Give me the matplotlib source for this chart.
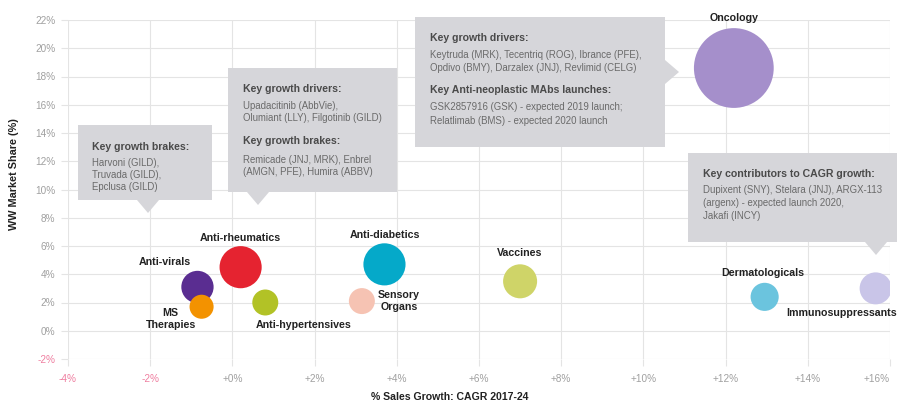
import matplotlib
matplotlib.use("Agg")
from matplotlib import pyplot as plt
from matplotlib.patches import Polygon

plt.rcParams["font.family"] = ["Liberation Sans", "DejaVu Sans"]

# therapy areas: sales growth CAGR 2017-24 (%), WW market share (%), bubble size
areas = ["Oncology", "Anti-virals", "MS\nTherapies", "Anti-rheumatics", "Anti-hypertensives",
         "Anti-diabetics", "Sensory\nOrgans", "Vaccines", "Dermatologicals", "Immunosuppressants"]
cagr = [12.2, -0.85, -0.75, 0.2, 0.8, 3.7, 3.15, 7.0, 12.95, 15.65]
share = [18.6, 3.1, 1.7, 4.5, 2.0, 4.7, 2.1, 3.5, 2.4, 3.0]
bubble_size = [3300, 540, 300, 920, 350, 920, 350, 600, 410, 530]
colors = ["#a58fcb", "#5a2d91", "#f39200", "#e52330", "#b2c226",
          "#05a9c9", "#f6c3b3", "#cfd468", "#6bc4de", "#c9c5e8"]
# label offsets from bubble centre, pixels
label_offsets = [(0, 50), (-33, 25), (-31, -12), (0, 29), (38, -22),
                 (0, 29), (37, 0), (0, 28), (-2, 24), (-34, -25)]

x_ticks = [-4, -2, 0, 2, 4, 6, 8, 10, 12, 14, 16]
y_ticks = [-2, 0, 2, 4, 6, 8, 10, 12, 14, 16, 18, 20, 22]

callouts = [
    {"box": (78, 125, 212, 200), "pointer": ("bottom", 148, 213), "text_x": 92,
     "lines": [("Key growth brakes:", True, 147), ("Harvoni (GILD),", False, 163),
               ("Truvada (GILD),", False, 175), ("Epclusa (GILD)", False, 187)]},
    {"box": (228, 68, 397, 192), "pointer": ("bottom", 258, 205), "text_x": 243,
     "lines": [("Key growth drivers:", True, 89), ("Upadacitinib (AbbVie),", False, 106),
               ("Olumiant (LLY), Filgotinib (GILD)", False, 118),
               ("Key growth brakes:", True, 141), ("Remicade (JNJ, MRK), Enbrel", False, 160),
               ("(AMGN, PFE), Humira (ABBV)", False, 172)]},
    {"box": (415, 17, 665, 147), "pointer": ("right", 72, 679), "text_x": 430,
     "lines": [("Key growth drivers:", True, 38),
               ("Keytruda (MRK), Tecentriq (ROG), Ibrance (PFE),", False, 55),
               ("Opdivo (BMY), Darzalex (JNJ), Revlimid (CELG)", False, 68),
               ("Key Anti-neoplastic MAbs launches:", True, 90),
               ("GSK2857916 (GSK) - expected 2019 launch;", False, 107),
               ("Relatlimab (BMS) - expected 2020 launch", False, 121)]},
    {"box": (688, 153, 897, 242), "pointer": ("bottom", 876, 255), "text_x": 703,
     "lines": [("Key contributors to CAGR growth:", True, 174),
               ("Dupixent (SNY), Stelara (JNJ), ARGX-113", False, 190),
               ("(argenx) - expected launch 2020,", False, 203),
               ("Jakafi (INCY)", False, 216)]},
]

W, H = 900, 403


def fx(px):
    return px / W


def fy(py):
    return 1 - py / H


def pct(v):
    if v < 0:
        return f"-{abs(v)}%"
    return f"{v}%"


fig = plt.figure(figsize=(9, 4.03), dpi=100)
ax = fig.add_axes([fx(68), fy(359), fx(890) - fx(68), fy(20) - fy(359)])
ax.set_xlim(-4, 16)
ax.set_ylim(-2, 22)
ax.set_xticks(x_ticks)
ax.set_yticks(y_ticks)
ax.set_xticklabels([pct(v) if v < 0 else f"+{v}%" for v in x_ticks])
ax.set_yticklabels([pct(v) for v in y_ticks])
for lab, v in zip(ax.get_xticklabels(), x_ticks):
    lab.set_color("#ef7fa0" if v < 0 else "#a0a0a0")
for lab, v in zip(ax.get_yticklabels(), y_ticks):
    lab.set_color("#ef7fa0" if v < 0 else "#a0a0a0")
ax.tick_params(axis="both", labelsize=7.2, length=5, color="#e4e4e4", width=0.8, pad=4)
ax.tick_params(axis="x", pad=6)
# last x label sits at the right edge of the picture
ax.get_xticklabels()[-1].set_horizontalalignment("right")
ax.get_xticklabels()[-1].set_x(16.25)
ax.grid(True, color="#e4e4e4", lw=0.8)
ax.set_axisbelow(True)
for s in ax.spines.values():
    s.set_visible(False)

ax.scatter(cagr, share, s=bubble_size, c=colors, edgecolors="none", zorder=3)
for name, x, y, off in zip(areas, cagr, share, label_offsets):
    ax.annotate(name, (x, y), xytext=off, textcoords="offset pixels", ha="center", va="center",
                fontsize=7.7, fontweight="bold", color="#222222", linespacing=1.2, zorder=4)

fig.text(fx(14), fy(174), "WW Market Share (%)", rotation=90, ha="center", va="center",
         fontsize=7.8, fontweight="bold", color="#222222")
fig.text(fx(450), fy(397), "% Sales Growth: CAGR 2017-24", ha="center", va="center",
         fontsize=7.6, fontweight="bold", color="#222222")

for c in callouts:
    x0, y0, x1, y1 = c["box"]
    kind = c["pointer"][0]
    if kind == "bottom":
        px, apex = c["pointer"][1], c["pointer"][2]
        pts = [(x0, y0), (x1, y0), (x1, y1), (px + 11, y1), (px, apex), (px - 11, y1), (x0, y1)]
    else:
        py, apex = c["pointer"][1], c["pointer"][2]
        pts = [(x0, y0), (x1, y0), (x1, py - 12), (apex, py), (x1, py + 12), (x1, y1), (x0, y1)]
    fig.add_artist(Polygon([(fx(a), fy(b)) for a, b in pts], closed=True,
                           transform=fig.transFigure, facecolor="#d6d6da", edgecolor="none"))
    for txt, bold, ty in c["lines"]:
        fig.text(fx(c["text_x"]), fy(ty), txt, ha="left", va="center",
                 fontsize=7.6 if bold else 6.9, fontweight="bold" if bold else "normal",
                 color="#4a4a4a" if bold else "#6a6a6a")

fig.savefig("out.png", dpi=100)
